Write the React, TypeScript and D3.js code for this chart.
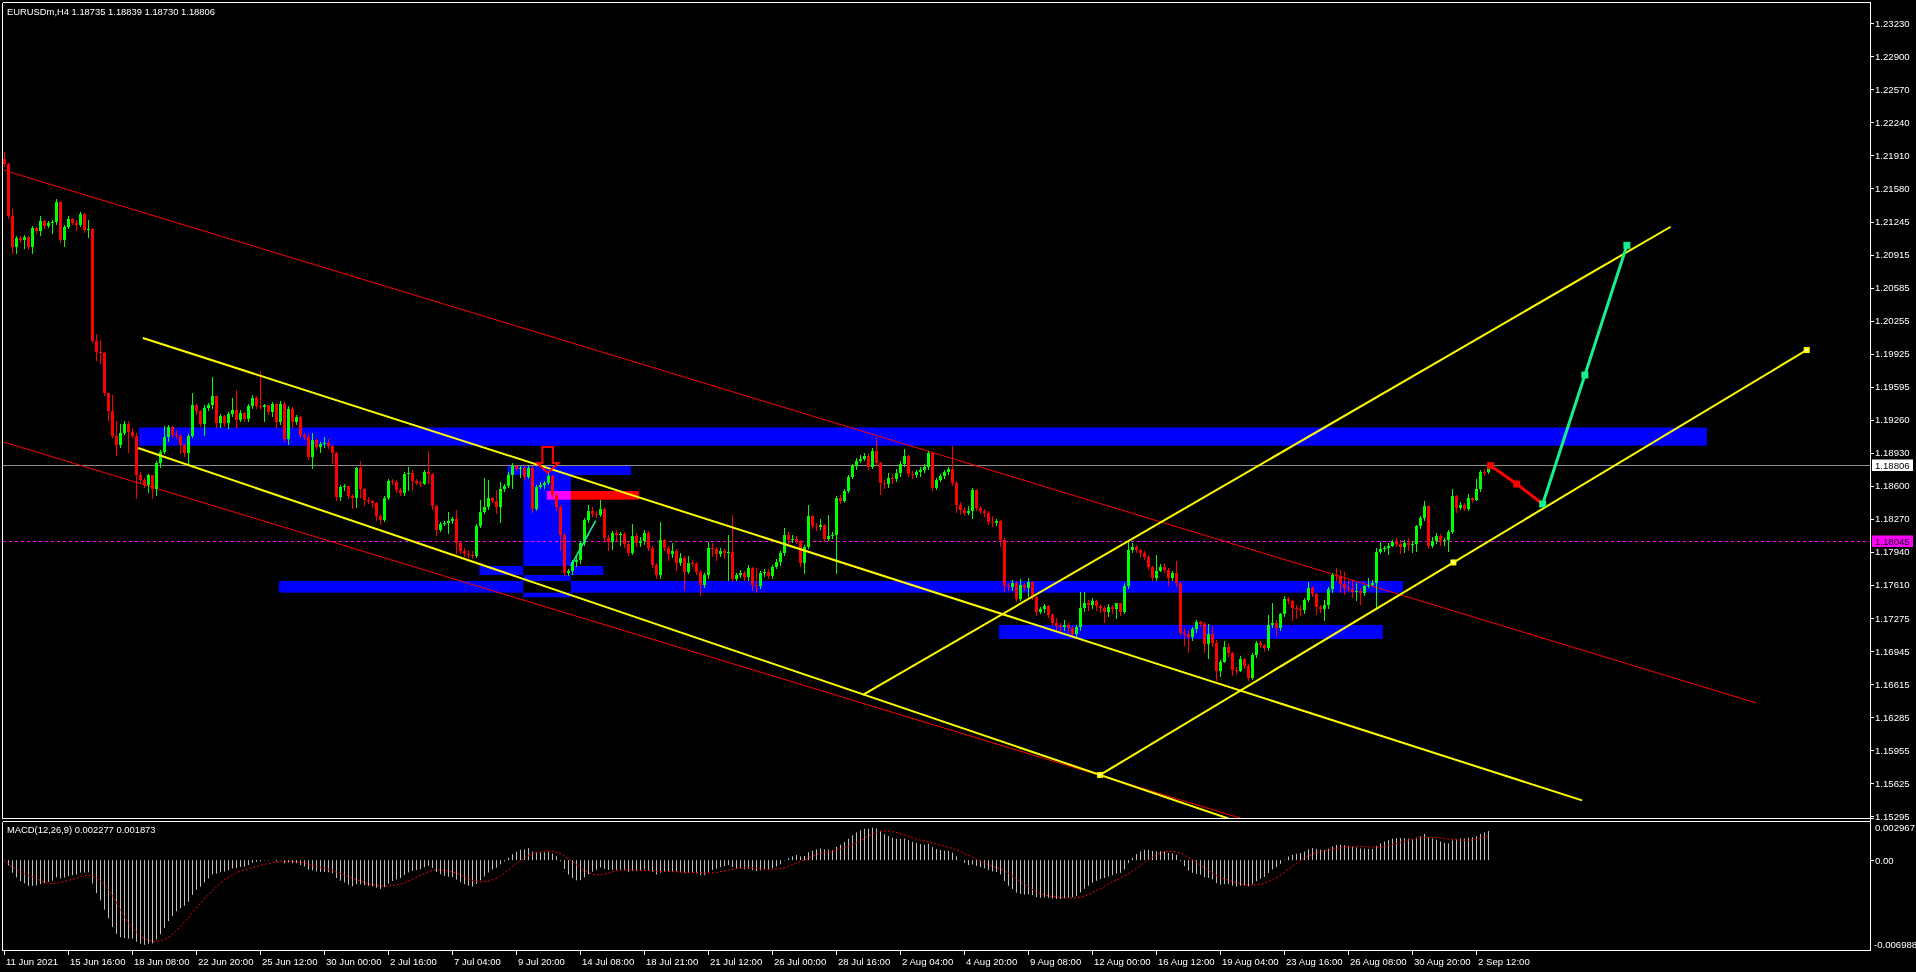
import React from 'react';
import * as d3 from 'd3';

const W = 1916;
const H = 972;

// ---------- axis labels ----------
const priceTicks = [1.2323, 1.229, 1.2257, 1.2224, 1.2191, 1.2158, 1.21245, 1.20915, 1.20585, 1.20255, 1.19925, 1.19595, 1.1926, 1.1893, 1.186, 1.1827, 1.1794, 1.1761, 1.17275, 1.16945, 1.16615, 1.16285, 1.15955, 1.15625, 1.15295];
const timeLabels = ['11 Jun 2021', '15 Jun 16:00', '18 Jun 08:00', '22 Jun 20:00', '25 Jun 12:00', '30 Jun 00:00', '2 Jul 16:00', '7 Jul 04:00', '9 Jul 20:00', '14 Jul 08:00', '18 Jul 21:00', '21 Jul 12:00', '26 Jul 00:00', '28 Jul 16:00', '2 Aug 04:00', '4 Aug 20:00', '9 Aug 08:00', '12 Aug 00:00', '16 Aug 12:00', '19 Aug 04:00', '23 Aug 16:00', '26 Aug 08:00', '30 Aug 20:00', '2 Sep 12:00'];
const timeLabelBars = [0, 16, 32, 48, 64, 80, 96, 112, 128, 144, 160, 176, 192, 208, 224, 240, 256, 272, 288, 304, 320, 336, 352, 368];

// ---------- EURUSDm H4 candles ----------
const firstOpen = 1.2187;
const closes = [
  1.2182, 1.2130, 1.2099, 1.2108, 1.2106, 1.2109, 1.2099, 1.2118, 1.2115, 1.2125,
  1.2120, 1.2123, 1.2124, 1.2144, 1.2106, 1.2119, 1.2127, 1.2123, 1.2121, 1.2132,
  1.2116, 1.2117, 1.2005, 1.1994, 1.1993, 1.1953, 1.1935, 1.1910, 1.1901, 1.1913,
  1.1922, 1.1914, 1.1910, 1.1871, 1.1866, 1.1861, 1.1871, 1.1857, 1.1883, 1.1894,
  1.1909, 1.1919, 1.1911, 1.1910, 1.1901, 1.1893, 1.1910, 1.1941, 1.1935, 1.1922,
  1.1938, 1.1941, 1.1950, 1.1923, 1.1930, 1.1923, 1.1932, 1.1936, 1.1926, 1.1933,
  1.1927, 1.1940, 1.1948, 1.1940, 1.1939, 1.1941, 1.1934, 1.1942, 1.1924, 1.1942,
  1.1907, 1.1937, 1.1924, 1.1929, 1.1911, 1.1909, 1.1889, 1.1906, 1.1899, 1.1902,
  1.1903, 1.1900, 1.1893, 1.1849, 1.1859, 1.1860, 1.1850, 1.1848, 1.1878, 1.1857,
  1.1846, 1.1845, 1.1843, 1.1830, 1.1826, 1.1848, 1.1865, 1.1864, 1.1856, 1.1853,
  1.1872, 1.1873, 1.1865, 1.1863, 1.1862, 1.1874, 1.1872, 1.1840, 1.1816, 1.1822,
  1.1823, 1.1825, 1.1827, 1.1803, 1.1795, 1.1792, 1.1791, 1.1790, 1.1820, 1.1834,
  1.1839, 1.1848, 1.1845, 1.1839, 1.1857, 1.1860, 1.1871, 1.1880, 1.1877, 1.1878,
  1.1869, 1.1878, 1.1837, 1.1859, 1.1861, 1.1863, 1.1870, 1.1851, 1.1839, 1.1811,
  1.1773, 1.1775, 1.1784, 1.1786, 1.1803, 1.1826, 1.1835, 1.1832, 1.1831, 1.1837,
  1.1808, 1.1804, 1.1813, 1.1811, 1.1812, 1.1802, 1.1793, 1.1810, 1.1803, 1.1805,
  1.1813, 1.1798, 1.1781, 1.1771, 1.1806, 1.1798, 1.1792, 1.1795, 1.1783, 1.1788,
  1.1774, 1.1783, 1.1782, 1.1774, 1.1761, 1.1771, 1.1798, 1.1797, 1.1792, 1.1795,
  1.1793, 1.1794, 1.1767, 1.1771, 1.1773, 1.1769, 1.1778, 1.1761, 1.1760, 1.1773,
  1.1774, 1.1770, 1.1779, 1.1784, 1.1793, 1.1811, 1.1806, 1.1807, 1.1805, 1.1783,
  1.1799, 1.1830, 1.1820, 1.1819, 1.1821, 1.1807, 1.1810, 1.1811, 1.1848, 1.1845,
  1.1855, 1.1869, 1.1880, 1.1885, 1.1887, 1.1890, 1.1879, 1.1895, 1.1883, 1.1863,
  1.1862, 1.1868, 1.1867, 1.1873, 1.1882, 1.1890, 1.1872, 1.1871, 1.1874, 1.1876,
  1.1879, 1.1893, 1.1858, 1.1866, 1.1870, 1.1874, 1.1877, 1.1863, 1.1841, 1.1836,
  1.1833, 1.1835, 1.1856, 1.1838, 1.1835, 1.1833, 1.1824, 1.1823, 1.1825, 1.1806,
  1.1760, 1.1759, 1.1763, 1.1747, 1.1761, 1.1758, 1.1764, 1.1749, 1.1734, 1.1737,
  1.1740, 1.1731, 1.1723, 1.1720, 1.1719, 1.1721, 1.1718, 1.1712, 1.1719, 1.1738,
  1.1743, 1.1741, 1.1745, 1.1740, 1.1738, 1.1734, 1.1739, 1.1737, 1.1743, 1.1734,
  1.1760, 1.1796, 1.1799, 1.1796, 1.1793, 1.1789, 1.1779, 1.1768, 1.1775, 1.1779,
  1.1776, 1.1768, 1.1773, 1.1763, 1.1713, 1.1712, 1.1709, 1.1717, 1.1724, 1.1722,
  1.1702, 1.1712, 1.1703, 1.1675, 1.1684, 1.1699, 1.1693, 1.1676, 1.1675, 1.1687,
  1.1680, 1.1668, 1.1691, 1.1703, 1.1701, 1.1698, 1.1721, 1.1723, 1.1718, 1.1732,
  1.1747, 1.1745, 1.1738, 1.1737, 1.1736, 1.1746, 1.1758, 1.1752, 1.1739, 1.1737,
  1.1741, 1.1757, 1.1771, 1.1770, 1.1762, 1.1758, 1.1757, 1.1754, 1.1755, 1.1753,
  1.1760, 1.1761, 1.1763, 1.1794, 1.1797, 1.1798, 1.1800, 1.1804, 1.1802, 1.1799,
  1.1803, 1.1801, 1.1802, 1.1820, 1.1828, 1.1840, 1.1800, 1.1805, 1.1810, 1.1805,
  1.1806, 1.1814, 1.1850, 1.1838, 1.1841, 1.1837, 1.1848, 1.1846, 1.1857, 1.1874,
  1.18735, 1.18806,
];
const highs = [
  1.2194, 1.2183, 1.2137, 1.2110, 1.2110, 1.2111, 1.2110, 1.2120, 1.2119, 1.2130,
  1.2126, 1.2125, 1.2126, 1.2147, 1.2145, 1.2121, 1.2130, 1.2128, 1.2126, 1.2134,
  1.2133, 1.2126, 1.2118, 1.2012, 1.2006, 1.1994, 1.1953, 1.1951, 1.1925, 1.1922,
  1.1925, 1.1925, 1.1918, 1.1913, 1.1874, 1.1868, 1.1872, 1.1870, 1.1885, 1.1896,
  1.1920, 1.1921, 1.1920, 1.1916, 1.1912, 1.1902, 1.1912, 1.1953, 1.1942, 1.1936,
  1.1941, 1.1943, 1.1969, 1.1950, 1.1932, 1.1931, 1.1934, 1.1948, 1.1956, 1.1936,
  1.1934, 1.1942, 1.1951, 1.1950, 1.1975, 1.1942, 1.1941, 1.1944, 1.1943, 1.1945,
  1.1944, 1.1940, 1.1939, 1.1931, 1.1930, 1.1913, 1.1913, 1.1913, 1.1908, 1.1904,
  1.1909, 1.1907, 1.1901, 1.1894, 1.1861, 1.1862, 1.1860, 1.1852, 1.1879, 1.1885,
  1.1858, 1.1849, 1.1846, 1.1844, 1.1832, 1.1850, 1.1867, 1.1867, 1.1866, 1.1858,
  1.1874, 1.1879, 1.1876, 1.1867, 1.1865, 1.1876, 1.1895, 1.1873, 1.1841, 1.1824,
  1.1825, 1.1834, 1.1829, 1.1836, 1.1804, 1.1798, 1.1796, 1.1795, 1.1822, 1.1846,
  1.1868, 1.1866, 1.1849, 1.1856, 1.1864, 1.1862, 1.1874, 1.1883, 1.1881, 1.1880,
  1.1881, 1.1881, 1.1880, 1.1861, 1.1864, 1.1865, 1.1874, 1.1871, 1.1853, 1.1841,
  1.1813, 1.1777, 1.1786, 1.1790, 1.1805, 1.1828, 1.1841, 1.1839, 1.1835, 1.1846,
  1.1838, 1.1811, 1.1815, 1.1816, 1.1814, 1.1814, 1.1804, 1.1822, 1.1813, 1.1809,
  1.1816, 1.1815, 1.1800, 1.1783, 1.1824, 1.1807, 1.1800, 1.1803, 1.1797, 1.1793,
  1.1790, 1.1790, 1.1786, 1.1784, 1.1776, 1.1773, 1.1804, 1.1803, 1.1799, 1.1798,
  1.1797, 1.1811, 1.1831, 1.1773, 1.1776, 1.1775, 1.1781, 1.1779, 1.1778, 1.1775,
  1.1777, 1.1777, 1.1781, 1.1787, 1.1795, 1.1818, 1.1814, 1.1811, 1.1810, 1.1806,
  1.1801, 1.1841, 1.1831, 1.1823, 1.1827, 1.1822, 1.1831, 1.1814, 1.1850, 1.1851,
  1.1857, 1.1871, 1.1882, 1.1888, 1.1891, 1.1893, 1.1893, 1.1898, 1.1909, 1.1884,
  1.1866, 1.1873, 1.1872, 1.1877, 1.1885, 1.1897, 1.1891, 1.1875, 1.1876, 1.1879,
  1.1882, 1.1895, 1.1894, 1.1868, 1.1872, 1.1876, 1.1879, 1.1900, 1.1865, 1.1844,
  1.1839, 1.1840, 1.1858, 1.1857, 1.1840, 1.1837, 1.1835, 1.1830, 1.1827, 1.1826,
  1.1808, 1.1763, 1.1766, 1.1765, 1.1767, 1.1763, 1.1768, 1.1765, 1.1750, 1.1739,
  1.1742, 1.1741, 1.1733, 1.1728, 1.1723, 1.1726, 1.1723, 1.1720, 1.1721, 1.1754,
  1.1754, 1.1746, 1.1748, 1.1746, 1.1742, 1.1740, 1.1742, 1.1741, 1.1743, 1.1742,
  1.1763, 1.1805, 1.1803, 1.1801, 1.1797, 1.1795, 1.1791, 1.1780, 1.1791, 1.1782,
  1.1783, 1.1778, 1.1775, 1.1785, 1.1764, 1.1718, 1.1716, 1.1719, 1.1726, 1.1725,
  1.1724, 1.1722, 1.1720, 1.1706, 1.1686, 1.1705, 1.1703, 1.1694, 1.1679, 1.1690,
  1.1688, 1.1682, 1.1693, 1.1705, 1.1705, 1.1702, 1.1731, 1.1743, 1.1726, 1.1733,
  1.1750, 1.1749, 1.1746, 1.1741, 1.1741, 1.1748, 1.1764, 1.1760, 1.1753, 1.1741,
  1.1746, 1.1759, 1.1773, 1.1778, 1.1776, 1.1774, 1.1766, 1.1766, 1.1763, 1.1758,
  1.1761, 1.1768, 1.1766, 1.1798, 1.1804, 1.1800, 1.1803, 1.1806, 1.1808, 1.1806,
  1.1806, 1.1808, 1.1805, 1.1821, 1.1830, 1.1845, 1.1841, 1.1809, 1.1813, 1.1812,
  1.1808, 1.1816, 1.1857, 1.1851, 1.1844, 1.1843, 1.1852, 1.1849, 1.1867, 1.1876,
  1.1877, 1.18839,
];
const lows = [
  1.2180, 1.2128, 1.2093, 1.2093, 1.2104, 1.2098, 1.2097, 1.2093, 1.2113, 1.2111,
  1.2118, 1.2119, 1.2113, 1.2122, 1.2104, 1.2100, 1.2118, 1.2122, 1.2116, 1.2120,
  1.2114, 1.2109, 1.2004, 1.1986, 1.1983, 1.1951, 1.1926, 1.1909, 1.1891, 1.1899,
  1.1912, 1.1894, 1.1909, 1.1848, 1.1863, 1.1859, 1.1854, 1.1848, 1.1851, 1.1879,
  1.1893, 1.1905, 1.1909, 1.1908, 1.1893, 1.1890, 1.1883, 1.1909, 1.1932, 1.1920,
  1.1911, 1.1936, 1.1938, 1.1919, 1.1919, 1.1920, 1.1918, 1.1930, 1.1919, 1.1925,
  1.1925, 1.1925, 1.1938, 1.1938, 1.1937, 1.1925, 1.1932, 1.1930, 1.1919, 1.1922,
  1.1904, 1.1902, 1.1919, 1.1922, 1.1909, 1.1907, 1.1887, 1.1878, 1.1897, 1.1894,
  1.1899, 1.1898, 1.1883, 1.1846, 1.1846, 1.1856, 1.1848, 1.1838, 1.1839, 1.1849,
  1.1841, 1.1843, 1.1839, 1.1826, 1.1822, 1.1825, 1.1847, 1.1862, 1.1854, 1.1851,
  1.1851, 1.1856, 1.1856, 1.1862, 1.1860, 1.1862, 1.1863, 1.1837, 1.1811, 1.1815,
  1.1821, 1.1813, 1.1823, 1.1793, 1.1793, 1.1790, 1.1789, 1.1788, 1.1789, 1.1819,
  1.1833, 1.1837, 1.1844, 1.1833, 1.1824, 1.1855, 1.1859, 1.1858, 1.1876, 1.1869,
  1.1867, 1.1868, 1.1834, 1.1836, 1.1858, 1.1858, 1.1862, 1.1849, 1.1836, 1.1796,
  1.1771, 1.1771, 1.1772, 1.1780, 1.1783, 1.1801, 1.1824, 1.1830, 1.1829, 1.1830,
  1.1806, 1.1796, 1.1797, 1.1806, 1.1801, 1.1799, 1.1791, 1.1792, 1.1800, 1.1800,
  1.1802, 1.1796, 1.1779, 1.1768, 1.1768, 1.1796, 1.1786, 1.1789, 1.1776, 1.1781,
  1.1756, 1.1773, 1.1780, 1.1772, 1.1751, 1.1759, 1.1768, 1.1790, 1.1786, 1.1790,
  1.1788, 1.1766, 1.1765, 1.1766, 1.1769, 1.1766, 1.1766, 1.1756, 1.1754, 1.1758,
  1.1770, 1.1768, 1.1768, 1.1778, 1.1781, 1.1791, 1.1803, 1.1804, 1.1803, 1.1780,
  1.1773, 1.1798, 1.1818, 1.1816, 1.1817, 1.1805, 1.1806, 1.1808, 1.1773, 1.1843,
  1.1844, 1.1854, 1.1868, 1.1877, 1.1884, 1.1886, 1.1877, 1.1878, 1.1881, 1.1852,
  1.1858, 1.1859, 1.1863, 1.1865, 1.1870, 1.1880, 1.1870, 1.1868, 1.1869, 1.1870,
  1.1874, 1.1877, 1.1856, 1.1857, 1.1865, 1.1868, 1.1872, 1.1861, 1.1834, 1.1832,
  1.1831, 1.1832, 1.1828, 1.1836, 1.1833, 1.1830, 1.1822, 1.1820, 1.1821, 1.1800,
  1.1755, 1.1756, 1.1756, 1.1745, 1.1746, 1.1756, 1.1750, 1.1747, 1.1731, 1.1733,
  1.1734, 1.1729, 1.1721, 1.1716, 1.1714, 1.1716, 1.1714, 1.1709, 1.1710, 1.1716,
  1.1735, 1.1736, 1.1738, 1.1736, 1.1734, 1.1724, 1.1730, 1.1733, 1.1728, 1.1731,
  1.1733, 1.1758, 1.1794, 1.1794, 1.1790, 1.1787, 1.1777, 1.1766, 1.1766, 1.1775,
  1.1774, 1.1761, 1.1766, 1.1760, 1.1711, 1.1701, 1.1694, 1.1706, 1.1714, 1.1720,
  1.1694, 1.1688, 1.1701, 1.1666, 1.1670, 1.1684, 1.1690, 1.1671, 1.1673, 1.1675,
  1.1678, 1.1666, 1.1667, 1.1689, 1.1699, 1.1695, 1.1696, 1.1719, 1.1711, 1.1716,
  1.1730, 1.1743, 1.1726, 1.1728, 1.1731, 1.1733, 1.1745, 1.1750, 1.1732, 1.1734,
  1.1726, 1.1738, 1.1754, 1.1766, 1.1754, 1.1752, 1.1755, 1.1749, 1.1746, 1.1742,
  1.1751, 1.1759, 1.1761, 1.1737, 1.1793, 1.1795, 1.1792, 1.1800, 1.1800, 1.1793,
  1.1794, 1.1796, 1.1794, 1.1795, 1.1818, 1.1826, 1.1798, 1.1799, 1.1803, 1.1801,
  1.1801, 1.1795, 1.1813, 1.1834, 1.1837, 1.1836, 1.1836, 1.1844, 1.1846, 1.1855,
  1.1871, 1.18730,
];

// ---------- horizontal levels ----------
const bidPrice = 1.18806;
const levelPrice = 1.18045;

// ---------- drawn objects (bar index, price) ----------
const redChannel = [
  [0, 1.21759, 438.1, 1.1643],
  [0, 1.1904, 320, 1.15146],
];
const yellowLines = [
  [34.8, 1.2008, 394.6, 1.15455],
  [33.6, 1.1898, 309.1, 1.15234],
  [214.8, 1.1651, 416.75, 1.21193],
];
const selectedLine = [274.1, 1.1571, 450.75, 1.1996];
// rectangles: i1, i2, top price, bottom price, colour
const zones: [number, number, number, number, string][] = [
  [33.8, 425.8, 1.19185, 1.19003, '#0000ff'],
  [68.8, 349.8, 1.1765, 1.17533, '#0000ff'],
  [248.8, 344.8, 1.1721, 1.1707, '#0000ff'],
  [129.9, 141.8, 1.1871, 1.17487, '#0000ff'],
  [125.9, 156.8, 1.18803, 1.1871, '#0000ff'],
  [118.9, 149.9, 1.178, 1.1771, '#0000ff'],
  [135.8, 158.8, 1.1855, 1.18463, '#ff0000'],
];
const sellArrow = [136, 1.18733];
const smallTrend = [141.8, 1.178, 148, 1.18253];
const projRed = [[371.75, 1.18803], [378.25, 1.1862], [384.75, 1.1842]];
const projGreen = [[384.75, 1.1842], [395.3, 1.1971], [405.8, 1.21007]];

const titleText = 'EURUSDm,H4  1.18735 1.18839 1.18730 1.18806';
const macdText = 'MACD(12,26,9) 0.002277 0.001873';
const macdMax = 0.002967;
const macdMin = -0.006988;

const FONT = '"Liberation Sans", Arial, sans-serif';

function ema(v: number[], n: number) {
  const k = 2 / (n + 1);
  const out: number[] = [];
  v.forEach((c, i) => out.push(i === 0 ? c : c * k + out[i - 1] * (1 - k)));
  return out;
}

export default function App() {
  const x = d3.scaleLinear().domain([0, 371]).range([3.7, 1487.7]);
  const y = d3.scaleLinear().domain([1.15295, 1.2323]).range([816.4, 23.1]);
  const ym = d3.scaleLinear().domain([macdMin, macdMax]).range([950, 822]);
  const fmt = d3.format('.5f');

  const opens = closes.map((_, i) => (i === 0 ? firstOpen : closes[i - 1]));
  const e12 = ema(closes, 12);
  const e26 = ema(closes, 26);
  const macd = closes.map((_, i) => e12[i] - e26[i]);
  const signal = macd.map((_, i) => d3.mean(macd.slice(Math.max(0, i - 8), i + 1)) as number);
  const sigLine = d3.line<number>().x((_, i) => x(i)).y((d) => ym(d));
  const ptLine = d3.line<number[]>().x((d) => x(d[0])).y((d) => y(d[1]));

  const ax = 1870.5;

  const [tI, tP] = sellArrow;
  const tx = x(tI);
  const ty = y(tP);
  const arrowPath = `M${tx - 5.3},${ty - 25.7} L${tx + 5.3},${ty - 25.7} L${tx + 5.3},${ty - 9.7} L${tx + 10.8},${ty - 9.7} L${tx},${ty} L${tx - 10.8},${ty - 9.7} L${tx - 5.3},${ty - 9.7} Z`;

  const selPts = [
    [selectedLine[0], selectedLine[1]],
    [(selectedLine[0] + selectedLine[2]) / 2, (selectedLine[1] + selectedLine[3]) / 2],
    [selectedLine[2], selectedLine[3]],
  ];

  return (
    <div style={{ position: 'fixed', left: 0, top: 0, width: W, height: H, background: '#000' }}>
      <svg width={W} height={H} style={{ display: 'block', background: '#000' }}>
        <defs>
          <clipPath id="mainClip">
            <rect x={3} y={3} width={1867} height={815} />
          </clipPath>
          <clipPath id="macdClip">
            <rect x={3} y={821} width={1867} height={129} />
          </clipPath>
        </defs>
        <rect x={0} y={0} width={W} height={H} fill="#000" />

        <g clipPath="url(#mainClip)">
          {/* zones (xor-like overlap) */}
          <g style={{ isolation: 'isolate' }}>
            {zones.map((z, k) => (
              <rect
                key={k}
                x={x(z[0])}
                y={y(z[2])}
                width={x(z[1]) - x(z[0])}
                height={y(z[3]) - y(z[2])}
                fill={z[4]}
                style={{ mixBlendMode: 'difference' }}
              />
            ))}
          </g>

          {/* levels */}
          <line x1={3} x2={ax} y1={Math.round(y(bidPrice)) + 0.5} y2={Math.round(y(bidPrice)) + 0.5} stroke="#8c8c8c" strokeWidth={1} />
          <line x1={3} x2={ax} y1={Math.round(y(levelPrice)) + 0.5} y2={Math.round(y(levelPrice)) + 0.5} stroke="#ff00ff" strokeWidth={1} strokeDasharray="3 3" />

          {/* red channel */}
          {redChannel.map((l, k) => (
            <line key={k} x1={x(l[0])} y1={y(l[1])} x2={x(l[2])} y2={y(l[3])} stroke="#ff0000" strokeWidth={1} />
          ))}

          {/* candles */}
          {closes.map((c, i) => {
            const o = opens[i];
            const cx = Math.round(x(i));
            const yo = y(o);
            const yc = y(c);
            const top = Math.round(Math.min(yo, yc));
            const bot = Math.round(Math.max(yo, yc));
            const yh = Math.min(Math.round(y(highs[i])), top);
            const yl = Math.max(Math.round(y(lows[i])), bot);
            const col = c >= o ? '#00ff00' : '#ff0000';
            return (
              <g key={i} shapeRendering="crispEdges">
                <rect x={cx} y={yh} width={1} height={yl - yh + 1} fill={col} />
                <rect x={cx - 1} y={top} width={3} height={Math.max(1, bot - top)} fill={col} />
              </g>
            );
          })}

          {/* yellow lines */}
          {yellowLines.map((l, k) => (
            <line key={k} x1={x(l[0])} y1={y(l[1])} x2={x(l[2])} y2={y(l[3])} stroke="#ffff00" strokeWidth={2} />
          ))}
          <line x1={x(selectedLine[0])} y1={y(selectedLine[1])} x2={x(selectedLine[2])} y2={y(selectedLine[3])} stroke="#ffff00" strokeWidth={2} />
          {selPts.map((p, k) => (
            <g key={k}>
              <rect x={x(p[0]) - 3} y={y(p[1]) - 3} width={6} height={6} fill="#ffff00" />
              <rect x={x(p[0]) - 1} y={y(p[1]) - 1} width={2} height={2} fill="#ffffff" />
            </g>
          ))}

          {/* small trend line */}
          <line x1={x(smallTrend[0])} y1={y(smallTrend[1])} x2={x(smallTrend[2])} y2={y(smallTrend[3])} stroke="#1de9a0" strokeWidth={1.6} />

          {/* sell arrow */}
          <path d={arrowPath} fill="none" stroke="#ff0000" strokeWidth={2} />

          {/* projection path */}
          <path d={ptLine(projRed) as string} fill="none" stroke="#ff0000" strokeWidth={3} />
          {projRed.slice(0, 2).map((p, k) => (
            <rect key={k} x={x(p[0]) - 3.5} y={y(p[1]) - 3.5} width={7} height={7} fill="#ff0000" />
          ))}
          <path d={ptLine(projGreen) as string} fill="none" stroke="#17f08c" strokeWidth={3} />
          {projGreen.map((p, k) => (
            <rect key={k} x={x(p[0]) - 3.5} y={y(p[1]) - 3.5} width={7} height={7} fill="#17f08c" />
          ))}
        </g>

        {/* MACD */}
        <g clipPath="url(#macdClip)">
          {macd.map((v, i) => {
            const cx = Math.round(x(i)) + 0.5;
            return <line key={i} x1={cx} x2={cx} y1={ym(0)} y2={ym(v)} stroke="#c0c0c0" strokeWidth={1} />;
          })}
          <path d={sigLine(signal) as string} fill="none" stroke="#ff0000" strokeWidth={1} strokeDasharray="2 2" />
        </g>

        {/* frames */}
        <g stroke="#ffffff" strokeWidth={1} fill="none" shapeRendering="crispEdges">
          <line x1={2.5} x2={ax} y1={2.5} y2={2.5} />
          <line x1={2.5} x2={2.5} y1={2.5} y2={818.5} />
          <line x1={2.5} x2={ax + 3} y1={818.5} y2={818.5} />
          <line x1={2.5} x2={ax} y1={821.5} y2={821.5} />
          <line x1={2.5} x2={2.5} y1={821.5} y2={950.5} />
          <line x1={2.5} x2={ax} y1={950.5} y2={950.5} />
          <line x1={ax} x2={ax} y1={2.5} y2={950.5} />
          {priceTicks.map((p, k) => (
            <line key={k} x1={ax} x2={ax + 3} y1={Math.round(y(p)) + 0.5} y2={Math.round(y(p)) + 0.5} />
          ))}
          <line x1={ax} x2={ax + 3} y1={Math.round(ym(0)) + 0.5} y2={Math.round(ym(0)) + 0.5} />
          {timeLabelBars.map((b, k) => (
            <line key={k} x1={Math.round(x(b)) + 0.5} x2={Math.round(x(b)) + 0.5} y1={950.5} y2={955} />
          ))}
        </g>

        {/* texts */}
        <g fill="#ffffff" fontFamily={FONT} fontSize={9.6}>
          <text x={7} y={14.5} fontSize={9.4}>{titleText}</text>
          <text x={7} y={833} fontSize={9.4}>{macdText}</text>
          {priceTicks.map((p, k) => (
            <text key={k} x={1875} y={y(p) + 3.5}>{fmt(p)}</text>
          ))}
          <text x={1875} y={830.5}>{String(macdMax)}</text>
          <text x={1875} y={ym(0) + 3.5}>0.00</text>
          <text x={1874} y={947.5}>{String(macdMin)}</text>
          {timeLabels.map((t, k) => (
            <text key={k} x={Math.round(x(timeLabelBars[k])) + 2} y={964.5}>{t}</text>
          ))}
        </g>

        {/* price tags */}
        <rect x={1872} y={Math.round(y(bidPrice)) - 5.5} width={41} height={11.5} fill="#ffffff" />
        <text x={1875} y={y(bidPrice) + 3.5} fill="#000" fontFamily={FONT} fontSize={9.6}>{fmt(bidPrice)}</text>
        <rect x={1872} y={Math.round(y(levelPrice)) - 5.5} width={41} height={11.5} fill="#ff00ff" />
        <text x={1875} y={y(levelPrice) + 3.5} fill="#000" fontFamily={FONT} fontSize={9.6}>{fmt(levelPrice)}</text>
      </svg>
    </div>
  );
}
